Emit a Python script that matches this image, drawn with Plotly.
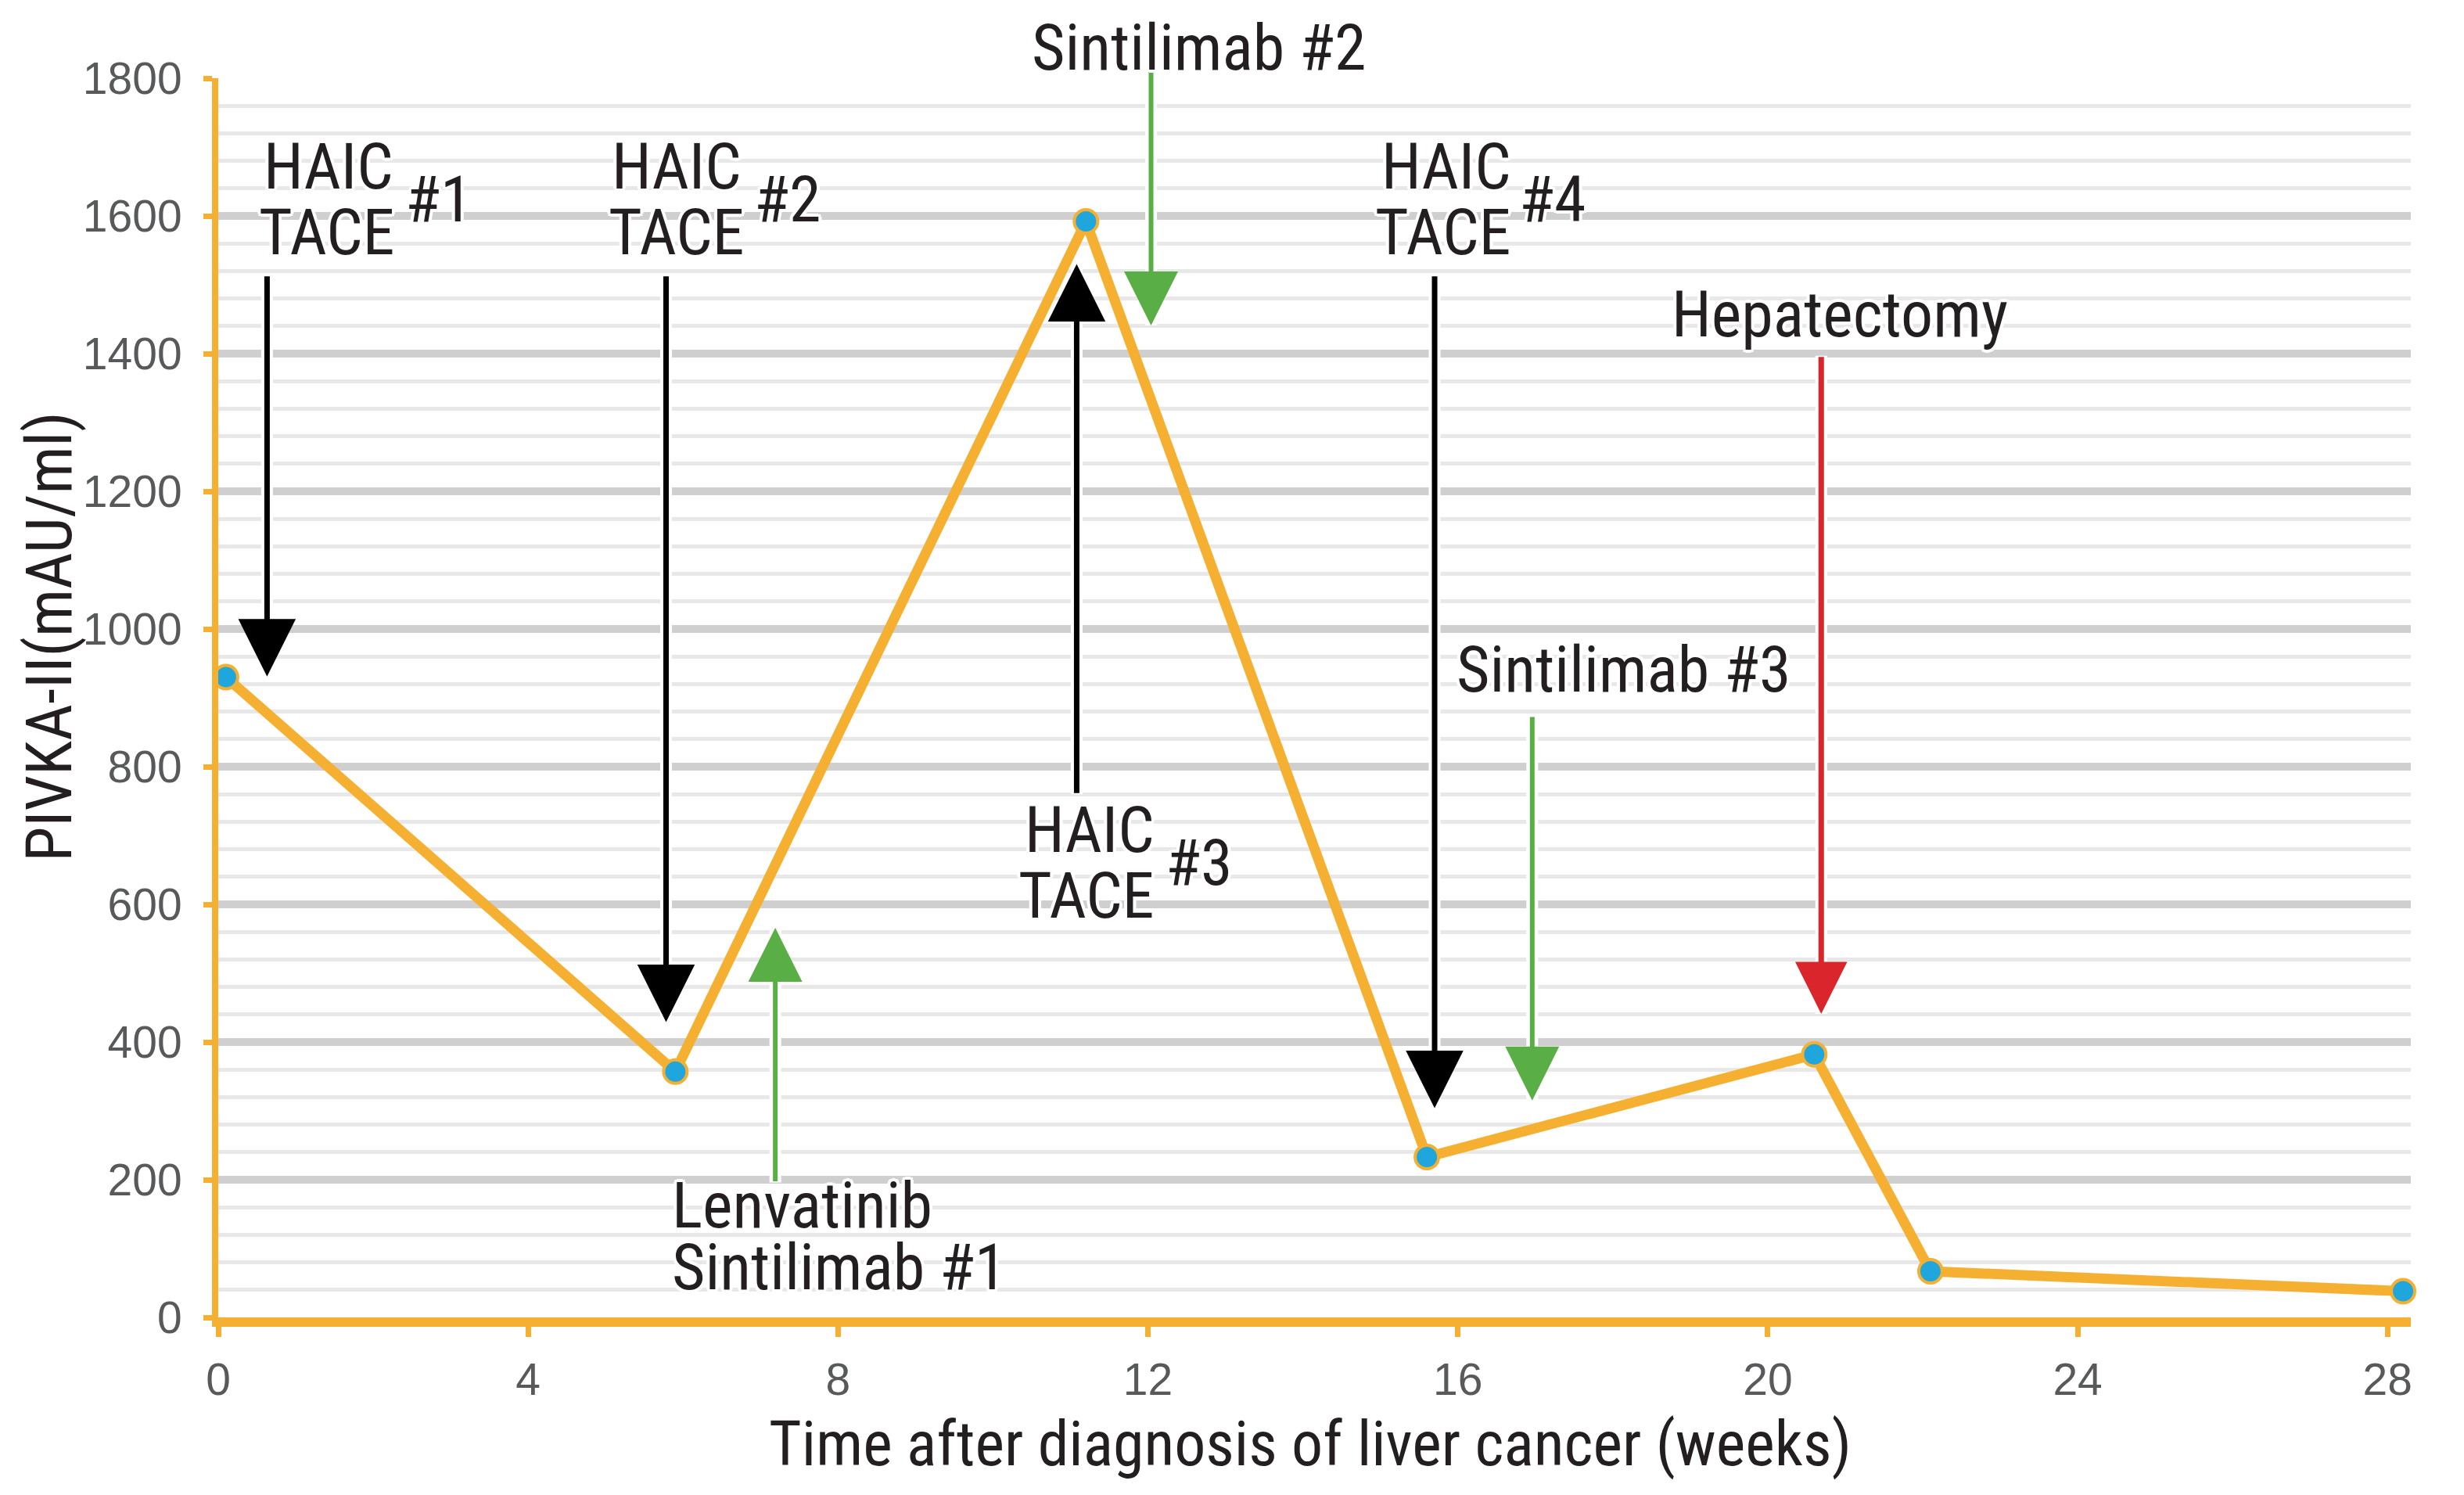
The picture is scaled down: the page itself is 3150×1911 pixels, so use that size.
import plotly.graph_objects as go

# PIVKA-II measurements
weeks = [0.1, 5.9, 11.2, 15.6, 20.6, 22.1, 28.2]
pivka = [930, 357, 1592, 233, 382, 67, 38]

x_ticks = [0, 4, 8, 12, 16, 20, 24, 28]
y_ticks = [0, 200, 400, 600, 800, 1000, 1200, 1400, 1600, 1800]

# treatment arrows: x position, tail value, tip value, kind
arrow_x = [0.63, 5.78, 7.19, 12.04, 11.08, 15.70, 16.96, 20.69]
arrow_tail = [1514, 1514, 196, 1822, 760, 1514, 874, 1397]
arrow_tip = [931, 429, 566, 1441, 1530, 304, 315, 441]
arrow_kind = ['black', 'black', 'green', 'green', 'black', 'black', 'green', 'red']

# text labels: text, x, y, anchor (y=None: sits above the plot, at the top edge)
label_text = ['HAIC', 'TACE', '#1',
              'HAIC', 'TACE', '#2',
              'HAIC', 'TACE', '#3',
              'HAIC', 'TACE', '#4',
              'Lenvatinib', 'Sintilimab #1',
              'Sintilimab #2', 'Sintilimab #3', 'Hepatectomy']
label_x = [1.42, 1.40, 2.84,
           5.92, 5.92, 7.34,
           11.25, 11.21, 12.66,
           15.85, 15.81, 17.22,
           5.84, 5.84,
           12.66, 18.14, 20.93]
label_y = [1672, 1576, 1624,
           1672, 1576, 1624,
           708, 612, 660,
           1672, 1576, 1624,
           162, 73,
           None, 941, 1457]
label_anchor = ['center'] * 12 + ['left', 'left'] + ['center'] * 3

Y_MAX = 1800
TOP_MARGIN = 92
ORANGE = '#f5b031'
BLUE = '#1ea6dd'
arrow_style = {
    'black': dict(color='#000000', width=7, size=2.1),
    'green': dict(color='#5aae46', width=6, size=2.3),
    'red': dict(color='#d9252b', width=7, size=1.9),
}
NARROW = 'Liberation Sans Narrow, Arial Narrow, Roboto Condensed, sans-serif'
TEXT_COLOR = '#231f20'
HALO = ('4px 0 0 white, -4px 0 0 white, 0 4px 0 white, 0 -4px 0 white, '
        '3px 3px 0 white, -3px -3px 0 white, 3px -3px 0 white, -3px 3px 0 white')

fig = go.Figure()
fig.add_trace(go.Scatter(
    x=weeks, y=pivka, mode='lines+markers',
    line=dict(color=ORANGE, width=13),
    marker=dict(size=30, color=BLUE, line=dict(color=ORANGE, width=4)),
    cliponaxis=False, showlegend=False, hoverinfo='skip'))

annotations = []
shapes = []
for xa, yt, yh, kind in zip(arrow_x, arrow_tail, arrow_tip, arrow_kind):
    st = arrow_style[kind]
    # white gap behind the arrow shaft, cutting the grid lines
    shapes.append(dict(type='line', xref='x', yref='y', x0=xa, x1=xa,
                       y0=min(yt, Y_MAX), y1=yh,
                       line=dict(color='white', width=15), layer='between'))
    annotations.append(dict(
        x=xa, y=yh, ax=xa, ay=yt, xref='x', yref='y', axref='x', ayref='y',
        text='', showarrow=True, arrowhead=2, arrowsize=st['size'],
        arrowwidth=st['width'], arrowcolor=st['color'], standoff=0, startstandoff=0))

label_font = dict(family=NARROW, size=82, color=TEXT_COLOR, shadow=HALO)
for t, xv, yv, anc in zip(label_text, label_x, label_y, label_anchor):
    if yv is None:
        annotations.append(dict(
            x=xv, y=1, xref='x', yref='paper', yshift=TOP_MARGIN - 3, text=t,
            showarrow=False, xanchor=anc, yanchor='top', font=label_font))
    else:
        annotations.append(dict(
            x=xv, y=yv, xref='x', yref='y', text=t,
            showarrow=False, xanchor=anc, yanchor='middle', font=label_font))

annotations.append(dict(
    x=-0.077, y=0.549, xref='paper', yref='paper', text='PIVKA-II(mAU/ml)',
    showarrow=False, textangle=-90, xanchor='center', yanchor='middle',
    font=dict(family=NARROW, size=81, color=TEXT_COLOR)))
annotations.append(dict(
    x=0.498, y=-0.102, xref='paper', yref='paper',
    text='Time after diagnosis of liver cancer (weeks)',
    showarrow=False, xanchor='center', yanchor='middle',
    font=dict(family=NARROW, size=80, color=TEXT_COLOR)))

tick_font = dict(family='Liberation Sans, Arial, sans-serif', size=57, color='#58595b')

fig.update_layout(
    width=3150, height=1911,
    margin=dict(l=271, r=76, t=TOP_MARGIN, b=235, autoexpand=False),
    paper_bgcolor='white', plot_bgcolor='white',
    annotations=annotations, shapes=shapes,
    xaxis=dict(range=[0, 28.3], tickvals=x_ticks, showgrid=False, zeroline=False,
               showline=True, linecolor=ORANGE, linewidth=12,
               ticks='outside', ticklen=13, tickwidth=7, tickcolor=ORANGE,
               tickfont=tick_font, ticklabelstandoff=6),
    yaxis=dict(range=[0, Y_MAX], tickvals=y_ticks, showgrid=True, gridcolor='#cfcfcf',
               gridwidth=10, zeroline=False,
               showline=True, linecolor=ORANGE, linewidth=8,
               ticks='outside', ticklen=11, tickwidth=7, tickcolor=ORANGE,
               tickfont=tick_font, ticklabelstandoff=16,
               minor=dict(dtick=40, tick0=0, showgrid=True, gridcolor='#e8e8e8',
                          gridwidth=4.5, ticks='')),
)

fig.write_html('out.html')
